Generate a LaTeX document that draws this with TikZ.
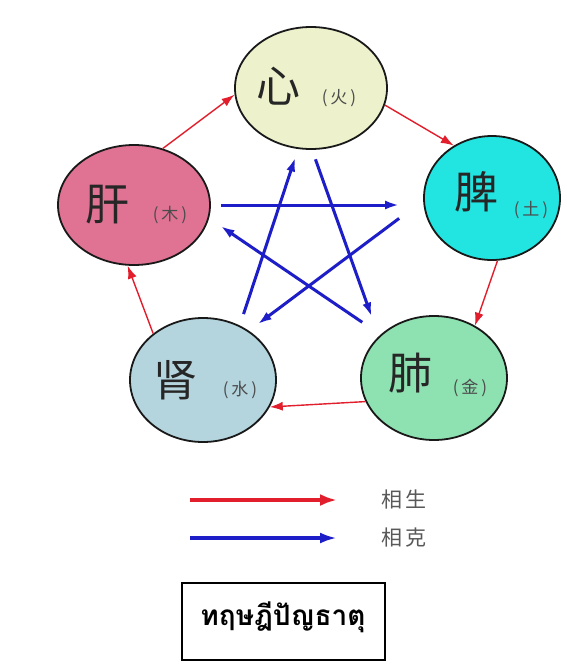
\documentclass[tikz,border=0pt]{standalone}
\usepackage{fontspec}
\newfontfamily\cjk{Noto Sans CJK SC}
\newfontfamily\thaifont[Script=Thai]{Loma}
\definecolor{FireCream}{RGB}{238,242,204}
\definecolor{WoodPink}{RGB}{224,114,148}
\definecolor{EarthCyan}{RGB}{34,228,224}
\definecolor{WaterGray}{RGB}{180,212,222}
\definecolor{MetalMint}{RGB}{142,226,178}
\definecolor{GenRed}{RGB}{226,30,44}
\definecolor{KeBlue}{RGB}{30,30,200}
\usetikzlibrary{arrows.meta,positioning,shapes.geometric}

\begin{document}
\begin{tikzpicture}[x=1pt,y=-1pt,
  organ/.style={draw=black!90,line width=1.8pt,ellipse,inner sep=0pt},
  bigzi/.style={font=\cjk\fontsize{44}{44}\selectfont,text=black!85,inner sep=0pt},
  xing/.style={font=\cjk\fontsize{17}{17}\selectfont,text=black!70,inner sep=0pt},
  sheng/.style={-{Latex[length=13pt,width=9pt]},GenRed,line width=1.4pt},
  ke/.style={-{Latex[length=14pt,width=9pt]},KeBlue,line width=3pt}]
\fill[white] (0,0) rectangle (567,665);
\useasboundingbox (0,0) rectangle (567,665);
% five organs
\node[organ,fill=FireCream,minimum width=152pt,minimum height=122pt] (xin) at (311,88) {};
\node[organ,fill=WoodPink,minimum width=152pt,minimum height=120pt] (gan) at (134,205) {};
\node[organ,fill=EarthCyan,minimum width=136pt,minimum height=124pt] (pi) at (492,198) {};
\node[organ,fill=WaterGray,minimum width=146pt,minimum height=124pt] (shen) at (203,380) {};
\node[organ,fill=MetalMint,minimum width=146pt,minimum height=124pt] (fei) at (434,378) {};
\node[bigzi] (xinzi) at (278,86) {心};
\node[xing] (huo) at (339,98) {(\hspace{3pt}火\hspace{3pt})};
\node[bigzi] (ganzi) at (107,205) {肝};
\node[xing] (mu) at (170,215) {(\hspace{3pt}木\hspace{3pt})};
\node[bigzi] (pizi) at (476,192) {脾};
\node[xing] (tu) at (531,210) {(\hspace{3pt}土\hspace{3pt})};
\node[bigzi] (shenzi) at (175,380) {肾};
\node[xing] (shui) at (240,390) {(\hspace{3pt}水\hspace{3pt})};
\node[bigzi] (feizi) at (410,373) {肺};
\node[xing] (jin) at (470,388) {(\hspace{3pt}金\hspace{3pt})};
% generating cycle
\draw[sheng] (gan.63) -- (xin.185);
\draw[sheng] (xin.347) -- (pi.126);
\draw[sheng] (pi.275) -- (fei.52);
\draw[sheng] (fei.199) -- (shen.338);
\draw[sheng] (shen.137) -- (gan.264);
% controlling star
\draw[ke,shorten <=10pt,shorten >=24pt] (gan.east) -- (gan.east -| pi.west);
\draw[ke,shorten <=30pt,shorten >=11pt] (pi.182) -- (shen.47);
\draw[ke,shorten <=12pt,shorten >=9pt] (shen.56) -- (xin.258);
\draw[ke,shorten <=10pt,shorten >=21pt] (xin.271) -- (fei.143);
\draw[ke,shorten <=22pt,shorten >=14pt] (fei.141) -- (gan.350);
% legend
\coordinate (redstart) at (190,500);
\coordinate (redend) at (337,500);
\coordinate (bluestart) at (190,538);
\coordinate (blueend) at (337,538);
\draw[-{Latex[length=17pt,width=12pt]},GenRed,line width=4.2pt] (redstart) -- (redend);
\draw[-{Latex[length=17pt,width=11pt]},KeBlue,line width=3.6pt] (bluestart) -- (blueend);
\node[font=\cjk\fontsize{21}{21}\selectfont,text=black!65] (xiangsheng) at (404,500) {相\hspace{4pt}生};
\node[font=\cjk\fontsize{21}{21}\selectfont,text=black!65] (xiangke) at (404,538) {相\hspace{4pt}克};
% title
\node[draw,line width=1.5pt,minimum width=203pt,minimum height=77pt] (titlebox) at (283.5,621.5) {};
\node[font=\thaifont\bfseries\fontsize{28}{28}\selectfont] (titletext) at (283,617) {ทฤษฎีปัญธาตุ};
\end{tikzpicture}
\end{document}
